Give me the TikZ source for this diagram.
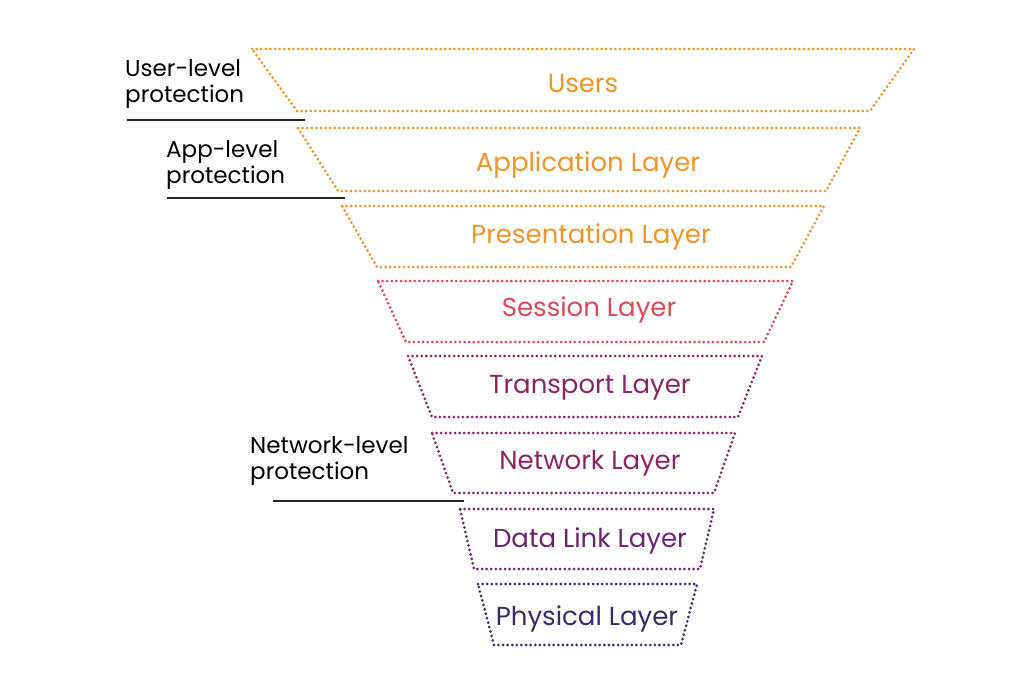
\documentclass[tikz,border=0pt]{standalone}
\usepackage{fontspec}
\setmainfont{Poppins}
\usetikzlibrary{positioning}
\definecolor{layorange}{HTML}{F39325}
\definecolor{layred}{HTML}{DD4858}
\definecolor{laymagenta}{HTML}{8E2363}
\definecolor{laypurple}{HTML}{6A236E}
\definecolor{layindigo}{HTML}{3B2A6A}
\tikzset{
	layer/.style={draw=#1, line width=3pt, line cap=round, dash pattern=on 0pt off 4.6pt},
	layertext/.style={text=#1, font=\fontsize{26}{30}\selectfont, inner sep=0pt, yshift=-2pt},
	protext/.style={font=\fontsize{23}{26}\selectfont, align=left, anchor=west, inner sep=0pt},
	proline/.style={line width=1.1pt, draw=black!85}
}
\begin{document}
\begin{tikzpicture}[x=1pt, y=-1pt]
	\useasboundingbox (0,0) rectangle (1014,677);
	
	% funnel of layers
	\draw[layer=layorange] (252,49) -- (914,49) -- (870,111) -- (297,111) -- cycle;
	\node[layertext=layorange] (users) at (583,82) {Users};
	
	\draw[layer=layorange] (298,128) -- (860,128) -- (826,191) -- (338,191) -- cycle;
	\node[layertext=layorange] (app) at (588,163) {Application Layer};
	
	\draw[layer=layorange] (342,206) -- (824,206) -- (791,267) -- (377,267) -- cycle;
	\node[layertext=layorange] (pres) at (591,235) {Presentation Layer};
	
	\draw[layer=layred] (378,281) -- (793,281) -- (764,342) -- (406,342) -- cycle;
	\node[layertext=layred] (sess) at (589,308) {Session Layer};
	
	\draw[layer=laymagenta] (408,356) -- (762,356) -- (738,417) -- (432,417) -- cycle;
	\node[layertext=laymagenta] (trans) at (590,386) {Transport Layer};
	
	\draw[layer=laymagenta] (432,433) -- (735,433) -- (714,493) -- (453,493) -- cycle;
	\node[layertext=laymagenta] (net) at (590,461) {Network Layer};
	
	\draw[layer=laypurple] (460,509) -- (714,509) -- (700,569) -- (474,569) -- cycle;
	\node[layertext=laypurple] (link) at (590,539) {Data Link Layer};
	
	\draw[layer=layindigo] (478,584) -- (697,584) -- (681,645) -- (494,645) -- cycle;
	\node[layertext=layindigo] (phys) at (587,617) {Physical Layer};
	
	% protection labels
	\node[protext] (userprot) at (125,84) {User-level\\protection};
	\coordinate (userl) at (127,120);
	\coordinate (userr) at (305,120);
	\draw[proline] (userl) -- (userr);
	
	\node[protext] (appprot) at (166,165) {App-level\\protection};
	\coordinate (appl) at (167,198);
	\coordinate (appr) at (345,198);
	\draw[proline] (appl) -- (appr);
	
	\node[protext] (netprot) at (250,461) {Network-level\\protection};
	\coordinate (netl) at (273,501);
	\coordinate (netr) at (464,501);
	\draw[proline] (netl) -- (netr);
\end{tikzpicture}
\end{document}
